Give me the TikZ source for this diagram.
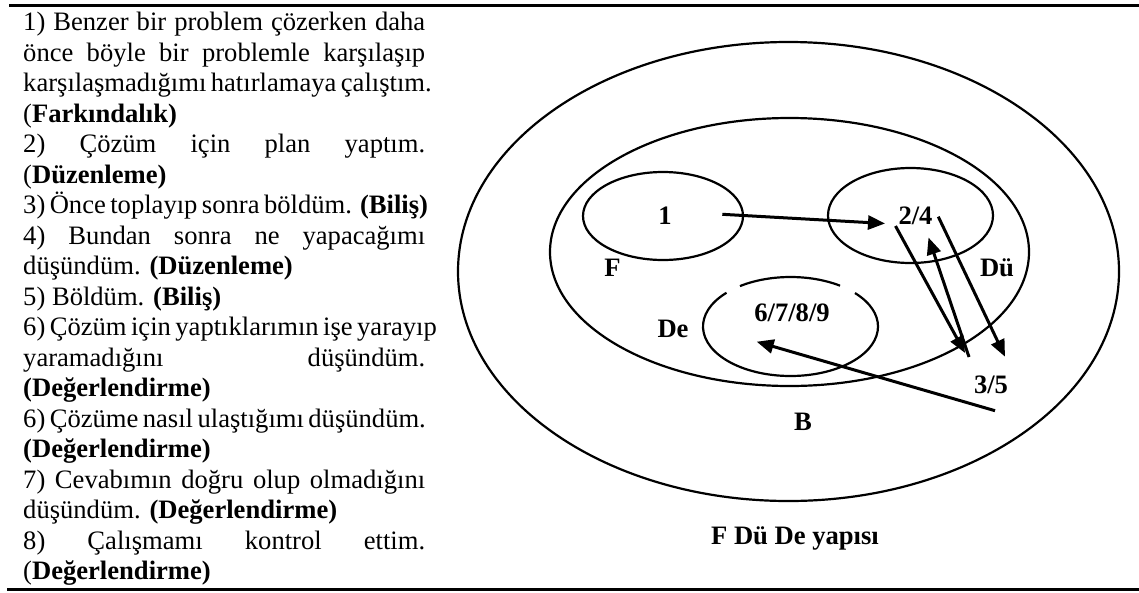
\documentclass[tikz,border=0pt]{standalone}
\usepackage{fontspec}
\setmainfont{Liberation Serif}
\usetikzlibrary{shapes.geometric,arrows.meta}

% width of the text column and helpers for justified / last lines
\newlength\colw
\setlength\colw{402pt}
\newcommand\jline[1]{\hbox to\colw{#1}}
\newcommand\lline[1]{\hbox to\colw{#1\hfil}}

\tikzset{
  rule/.style={line width=3pt},
  ring/.style={ellipse, draw, line width=2.2pt, inner sep=0pt},
  ringline/.style={line width=2.2pt},
  lab/.style={font=\fontsize{26.6}{30}\selectfont\bfseries, inner sep=0pt, anchor=base},
  flow/.style={line width=3pt, -{Triangle[length=17pt,width=14pt]}},
}

\begin{document}
\begin{tikzpicture}[x=1pt,y=1pt]
\useasboundingbox (0,0) rectangle (1139,-592);

% horizontal rules above and below
\draw[rule] (9,-5.3) -- (1139,-5.3);
\draw[rule] (7,-589) -- (1139,-589);

% list of the steps
\node[anchor=base west, inner sep=0pt, font=\fontsize{26.6}{30.5}\selectfont] (steps) at (23,-30.5) {\vtop{%
\jline{1) Benzer bir problem çözerken daha}
\jline{önce böyle bir problemle karşılaşıp}
\jline{karşılaşmadığımı hatırlamaya çalıştım.}
\lline{(\textbf{Farkındalık)}}
\jline{2) Çözüm için plan yaptım.}
\lline{(\textbf{Düzenleme)}}
\lline{3) Önce toplayıp sonra böldüm. \textbf{(Biliş)}}
\jline{4) Bundan sonra ne yapacağımı}
\lline{düşündüm. \textbf{(Düzenleme)}}
\lline{5) Böldüm. \textbf{(Biliş)}}
\jline{6) Çözüm için yaptıklarımın işe yarayıp}
\jline{yaramadığını düşündüm.}
\lline{\textbf{(Değerlendirme)}}
\jline{6) Çözüme nasıl ulaştığımı düşündüm.}
\lline{\textbf{(Değerlendirme)}}
\jline{7) Cevabımın doğru olup olmadığını}
\lline{düşündüm. \textbf{(Değerlendirme)}}
\jline{8) Çalışmamı kontrol ettim.}
\lline{(\textbf{Değerlendirme)}}
}};

% nested regions
\node[ring, minimum width=661pt, minimum height=459pt] (outer) at (788.5,-271.5) {};
\node[ring, minimum width=479pt, minimum height=268pt] (middle) at (789.5,-252) {};
\node[ring, minimum width=160pt, minimum height=88pt] (fzone) at (663,-216) {};
\node[ring, minimum width=165pt, minimum height=95pt] (duzone) at (910.5,-215.5) {};
\coordinate (dezone) at (790.5,-326.5);
\draw[ringline] ([shift={(137:87.5 and 49.5)}]dezone)
  arc[start angle=137, end angle=402.5, x radius=87.5, y radius=49.5];
\draw[ringline] ([shift={(55.5:87.5 and 49.5)}]dezone)
  arc[start angle=55.5, end angle=125.3, x radius=87.5, y radius=49.5];

% labels
\node[lab] (n1) at (665,-224) {1};
\node[lab] (n24) at (915.5,-224) {2/4};
\node[lab] (nF) at (612.5,-276.5) {F};
\node[lab] (nDu) at (997,-276) {Dü};
\node[lab] (nDe) at (673,-337) {De};
\node[lab] (n6789) at (792,-321.7) {6/7/8/9};
\node[lab] (n35) at (991,-393) {3/5};
\node[lab] (nB) at (803,-430) {B};
\node[lab] (cap) at (795,-544) {F Dü De yapısı};

% arrow ends
\coordinate (oneout) at (722.3,-214.3);
\coordinate (twoin) at (885,-223.5);
\coordinate (twooutA) at (895.5,-226);
\coordinate (threeinA) at (965,-353);
\coordinate (threeoutA) at (969,-357);
\coordinate (twoinB) at (928.5,-237.5);
\coordinate (twooutB) at (938.3,-216.7);
\coordinate (threeinB) at (1005,-356.7);
\coordinate (threeoutB) at (995,-410.7);
\coordinate (sixin) at (756.7,-341.7);

% transitions between the steps
\draw[flow] (oneout) -- (twoin);
\draw[flow] (twooutA) -- (threeinA);
\draw[flow] (threeoutA) -- (twoinB);
\draw[flow] (twooutB) -- (threeinB);
\draw[flow] (threeoutB) -- (sixin);
\end{tikzpicture}
\end{document}
